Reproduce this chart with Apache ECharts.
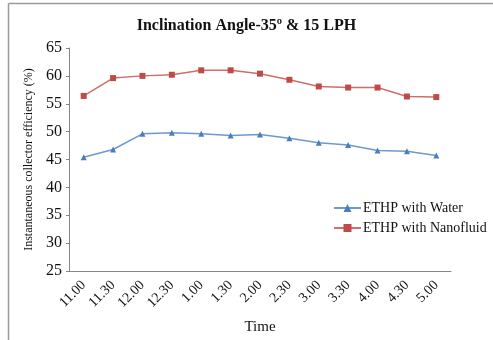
<!DOCTYPE html>
<html>
<head>
<meta charset="utf-8">
<script src="https://cdn.jsdelivr.net/npm/echarts@6/dist/echarts.min.js"></script>
<style>
  html, body { margin: 0; padding: 0; background: #fff; }
  #chart { width: 493px; height: 340px; }
</style>
</head>
<body>
<div id="chart"></div>
<script>
// Time of day (hours)
const times = ['11.00', '11.30', '12.00', '12.30', '1.00', '1.30', '2.00', '2.30', '3.00', '3.30', '4.00', '4.30', '5.00'];
// Instantaneous collector efficiency (%)
const water = [45.4, 46.8, 49.6, 49.8, 49.6, 49.3, 49.5, 48.8, 48.0, 47.6, 46.6, 46.5, 45.7];
const nanofluid = [56.4, 59.6, 60.0, 60.2, 61.0, 61.0, 60.4, 59.3, 58.1, 57.9, 57.9, 56.3, 56.2];
const yTicks = [25, 30, 35, 40, 45, 50, 55, 60, 65];

const serif = 'Liberation Serif';
const chart = echarts.init(document.getElementById('chart'));

chart.setOption({
  animation: false,
  textStyle: { fontFamily: serif },
  title: {
    text: 'Inclination Angle-35º & 15 LPH',
    left: 'center',
    top: 13,
    textStyle: { fontFamily: serif, fontSize: 16, fontWeight: 'bold', color: '#111' }
  },
  graphic: [
    { type: 'line', shape: { x1: 8.5, y1: 3.5, x2: 493, y2: 3.5 }, style: { stroke: '#9a9a9a', lineWidth: 1.5 } },
    { type: 'line', shape: { x1: 8.5, y1: 3.5, x2: 8.5, y2: 340 }, style: { stroke: '#9a9a9a', lineWidth: 1.5 } }
  ],
  legend: {
    orient: 'vertical',
    left: 328,
    top: 196,
    itemGap: 6,
    itemWidth: 27,
    itemHeight: 10,
    textStyle: { fontFamily: serif, fontSize: 14, color: '#111', padding: [0, 0, 0, -3] },
    data: ['ETHP with Water', 'ETHP with Nanofluid']
  },
  grid: { left: 69, right: 42, top: 48, bottom: 69, containLabel: false },
  xAxis: {
    type: 'category',
    data: times,
    boundaryGap: true,
    name: 'Time',
    nameLocation: 'middle',
    nameGap: 49,
    nameTextStyle: { fontFamily: serif, fontSize: 15, color: '#111' },
    axisLine: { lineStyle: { color: '#868686' } },
    axisTick: { show: false },
    axisLabel: { rotate: 45, fontFamily: serif, fontSize: 14, color: '#111', margin: 12 }
  },
  yAxis: {
    type: 'value',
    min: yTicks[0],
    max: yTicks[yTicks.length - 1],
    interval: 5,
    name: 'Instantaneous collector efficiency (%)',
    nameLocation: 'middle',
    nameGap: 32,
    nameTextStyle: { fontFamily: serif, fontSize: 12, color: '#111' },
    splitLine: { show: false },
    axisLine: { show: true, lineStyle: { color: '#868686' } },
    axisTick: { show: true, length: 3, lineStyle: { color: '#868686' } },
    axisLabel: { fontFamily: serif, fontSize: 16, color: '#111', margin: 7 }
  },
  series: [
    {
      name: 'ETHP with Water',
      type: 'line',
      data: water,
      symbol: 'triangle',
      symbolSize: 6,
      color: '#4f81bd',
      lineStyle: { width: 1.5, color: '#6e99cf' },
      itemStyle: { color: '#4a7ebb' }
    },
    {
      name: 'ETHP with Nanofluid',
      type: 'line',
      data: nanofluid,
      symbol: 'rect',
      symbolSize: 6,
      color: '#c0504d',
      lineStyle: { width: 1.5, color: '#d06e6b' },
      itemStyle: { color: '#be4b48' }
    }
  ]
});
</script>
</body>
</html>
